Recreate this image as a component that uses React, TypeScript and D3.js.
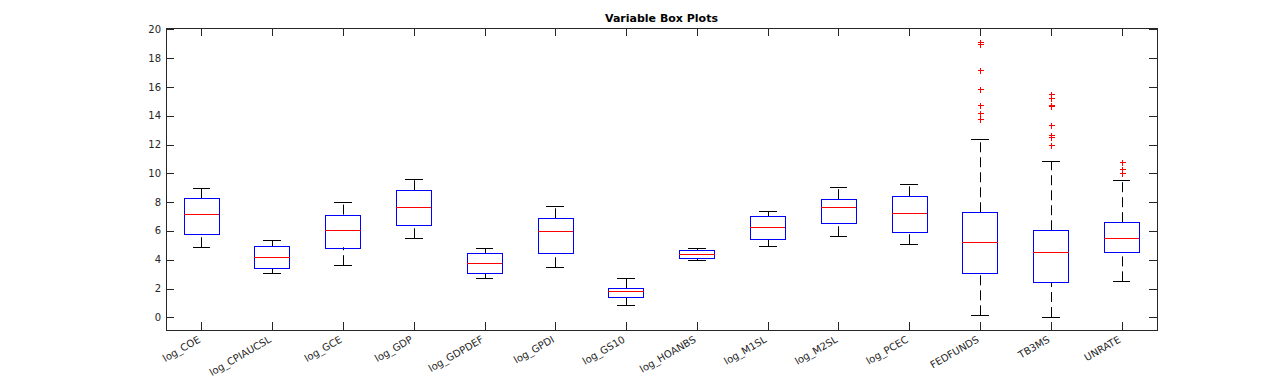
import React from "react";
import * as d3 from "d3";

const categories = ["log_COE","log_CPIAUCSL","log_GCE","log_GDP","log_GDPDEF","log_GPDI","log_GS10","log_HOANBS","log_M1SL","log_M2SL","log_PCEC","FEDFUNDS","TB3MS","UNRATE"];
const lowerWhisker = [4.87,3.06,3.62,5.49,2.71,3.48,0.86,3.96,4.94,5.63,5.08,0.14,0.02,2.50];
const q1 = [5.77,3.41,4.87,6.40,3.06,4.45,1.41,4.10,5.42,6.54,5.91,3.06,2.43,4.52];
const medians = [7.16,4.17,6.05,7.65,3.75,5.98,1.81,4.38,6.26,7.65,7.23,5.22,4.52,5.49];
const q3 = [8.28,4.94,7.14,8.83,4.45,6.88,2.02,4.66,7.02,8.21,8.41,7.30,6.05,6.61];
const upperWhisker = [8.97,5.35,8.00,9.60,4.80,7.72,2.73,4.80,7.37,9.04,9.25,12.40,10.85,9.57];
const outliers: number[][] = [[],[],[],[],[],[],[],[],[],[],[],
  [19.12,18.96,17.18,15.86,14.72,14.19,13.77],
  [15.53,15.23,14.74,14.68,13.35,12.66,12.52,11.98],
  [10.82,10.27,10.01]];
const yTicks = [0,2,4,6,8,10,12,14,16,18,20];
const title = "Variable Box Plots";

const W = 1278, H = 383;
const L = 166, R = 1157, T = 28, B = 330;
const axisColor = "#262626";

export default function App() {
  const x = d3.scaleLinear().domain([0.5, categories.length + 0.5]).range([L, R]);
  const y = d3.scaleLinear().domain([-0.88, 20.1]).range([B, T]);
  const unit = x(1) - x(0);
  const boxHalf = unit * 0.25;
  const capHalf = unit * 0.125;
  const tickLen = 8;
  const px = (v: number) => Math.round(v) + 0.5;

  return (
    <svg width={W} height={H} style={{ position: "absolute", left: 0, top: 0, fontFamily: "DejaVu Sans, sans-serif" }}>
      <rect x={0} y={0} width={W} height={H} fill="#fff" />
      <text x={(L + R) / 2} y={22} textAnchor="middle" fontSize={11} fontWeight="bold" fill="#000">{title}</text>
      <rect x={L + 0.5} y={T + 0.5} width={R - L} height={B - T} fill="none" stroke={axisColor} strokeWidth={1} shapeRendering="crispEdges" />
      {yTicks.map((t) => (
        <g key={"y" + t}>
          <line x1={L} x2={L + tickLen} y1={px(y(t))} y2={px(y(t))} stroke={axisColor} shapeRendering="crispEdges" />
          <line x1={R - tickLen} x2={R} y1={px(y(t))} y2={px(y(t))} stroke={axisColor} shapeRendering="crispEdges" />
          <text x={L - 5} y={y(t)} dy="0.35em" textAnchor="end" fontSize={10} fill={axisColor}>{t}</text>
        </g>
      ))}
      {categories.map((c, i) => {
        const xi = x(i + 1);
        return (
          <g key={"x" + c}>
            <line x1={px(xi)} x2={px(xi)} y1={B} y2={B - tickLen} stroke={axisColor} shapeRendering="crispEdges" />
            <line x1={px(xi)} x2={px(xi)} y1={T} y2={T + tickLen} stroke={axisColor} shapeRendering="crispEdges" />
            <text transform={`translate(${xi - 4},${B + 5}) rotate(-30)`} textAnchor="end" dy="0.75em" fontSize={10} fill={axisColor}>{c}</text>
          </g>
        );
      })}
      {categories.map((c, i) => {
        const xi = x(i + 1);
        const cx = px(xi);
        return (
          <g key={"b" + c}>
            <line x1={cx} x2={cx} y1={y(q3[i])} y2={y(upperWhisker[i])} stroke="#000" strokeDasharray="10,5" />
            <line x1={cx} x2={cx} y1={y(lowerWhisker[i])} y2={y(q1[i])} stroke="#000" strokeDasharray="10,5" />
            <line x1={xi - capHalf} x2={xi + capHalf} y1={px(y(upperWhisker[i]))} y2={px(y(upperWhisker[i]))} stroke="#000" shapeRendering="crispEdges" />
            <line x1={xi - capHalf} x2={xi + capHalf} y1={px(y(lowerWhisker[i]))} y2={px(y(lowerWhisker[i]))} stroke="#000" shapeRendering="crispEdges" />
            <rect x={px(xi - boxHalf)} y={px(y(q3[i]))} width={Math.round(2 * boxHalf)} height={Math.max(1, Math.round(y(q1[i]) - y(q3[i])))} fill="none" stroke="#0000ff" shapeRendering="crispEdges" />
            <line x1={xi - boxHalf} x2={xi + boxHalf} y1={px(y(medians[i]))} y2={px(y(medians[i]))} stroke="#ff0000" shapeRendering="crispEdges" />
            {outliers[i].map((o, k) => (
              <g key={k}>
                <line x1={cx - 3} x2={cx + 3} y1={px(y(o))} y2={px(y(o))} stroke="#ff0000" shapeRendering="crispEdges" />
                <line x1={cx} x2={cx} y1={px(y(o)) - 3} y2={px(y(o)) + 3} stroke="#ff0000" shapeRendering="crispEdges" />
              </g>
            ))}
          </g>
        );
      })}
    </svg>
  );
}
